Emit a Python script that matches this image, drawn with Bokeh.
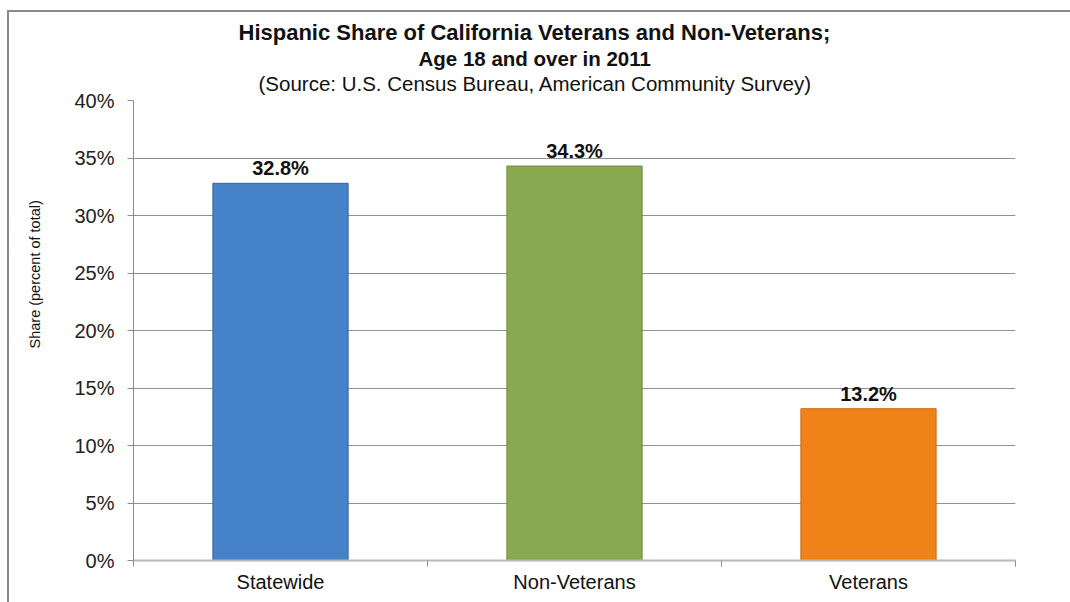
from bokeh.plotting import figure
from bokeh.models import (ColumnDataSource, Range1d, FixedTicker, Label, LabelSet,
                          PrintfTickFormatter, Title)
from bokeh.core.properties import value
from bokeh.embed import file_html
from bokeh.resources import INLINE

# ---- data ----
categories = ["Statewide", "Non-Veterans", "Veterans"]
shares = [32.8, 34.3, 13.2]
bar_colors = ["#4682C8", "#8AA84F", "#F0821A"]
edge_colors = ["#3566A0", "#6F8A3C", "#C96A10"]
y_ticks = [0, 5, 10, 15, 20, 25, 30, 35, 40]

title_line1 = "Hispanic Share of California Veterans and Non-Veterans;"
title_line2 = "Age 18 and over in 2011"
title_line3 = "(Source: U.S. Census Bureau, American Community Survey)"
y_label = "Share (percent of total)"
cut_heading = "g"

FONT = "Liberation Sans"
W, H = 1070, 602
FL, FR, FT, FB = 133, 1015, 100, 560   # frame edges on the page

xpos = [i + 0.5 for i in range(len(categories))]
src = ColumnDataSource(dict(
    x=xpos, top=shares, color=bar_colors, edge=edge_colors,
    label=[f"{v:.1f}%" for v in shares],
))

p = figure(width=W, height=H, output_backend="svg", toolbar_location=None,
           x_range=Range1d(0, len(categories)), y_range=Range1d(0, 40),
           min_border_left=FL, min_border_right=W - FR, min_border_top=FT,
           min_border_bottom=H - FB)
p.outline_line_color = None
p.background_fill_color = "white"
p.border_fill_color = None
# slide frame (grey top and left rules) drawn behind the transparent canvas
p.styles = {
    "background": ("linear-gradient(#8a8a8a,#8a8a8a) 7px 10px / 1063px 2px no-repeat, "
                   "linear-gradient(#8a8a8a,#8a8a8a) 7px 10px / 2px 592px no-repeat, white"),
}

p.vbar(x="x", top="top", width=0.46, bottom=0, source=src,
       fill_color="color", line_color="edge", line_width=1)

labels = LabelSet(x="x", y="top", text="label", source=src, text_align="center",
                  text_baseline="bottom", y_offset=4, text_font=value(FONT),
                  text_font_style="bold", text_font_size="20px", text_color="#111111")
p.add_layout(labels)

# y axis
p.yaxis.ticker = FixedTicker(ticks=y_ticks)
p.yaxis.formatter = PrintfTickFormatter(format="%d%%")
p.yaxis.major_label_text_font = FONT
p.yaxis.major_label_text_font_size = "20px"
p.yaxis.major_label_text_color = "#222222"
p.yaxis.major_tick_out = 6
p.yaxis.major_tick_in = 0
p.yaxis.minor_tick_line_color = None
p.yaxis.axis_line_color = "#8c8c8c"
p.yaxis.major_tick_line_color = "#8c8c8c"
p.yaxis.major_label_standoff = 13

# x axis: labels at centres, separator ticks at category boundaries
p.xaxis.ticker = FixedTicker(ticks=xpos, minor_ticks=list(range(len(categories) + 1)))
p.xaxis.major_label_overrides = {x: c for x, c in zip(xpos, categories)}
p.xaxis.major_tick_line_color = None
p.xaxis.major_tick_out = 0
p.xaxis.major_tick_in = 0
p.xaxis.minor_tick_out = 6
p.xaxis.minor_tick_in = 0
p.xaxis.minor_tick_line_color = "#8c8c8c"
p.xaxis.axis_line_color = "#b8b8b8"
p.xaxis.axis_line_width = 2
p.xaxis.major_label_text_font = FONT
p.xaxis.major_label_text_font_size = "20px"
p.xaxis.major_label_text_color = "#111111"
p.xaxis.major_label_standoff = 4

p.xgrid.grid_line_color = None
p.ygrid.grid_line_color = "#909090"
p.ygrid.grid_line_width = 1

# title block: stacked titles (added nearest-to-frame first),
# left-aligned with offsets so that each line is centred on the slide (x = 535)
p.title = None
p.add_layout(Title(text=" ", text_font_size="1px", standoff=3), "above")   # spacer
p.add_layout(Title(text=title_line3, align="left", offset=125, standoff=0,
                   text_font=FONT, text_font_size="20.5px", text_font_style="normal",
                   text_line_height=1.0, text_color="#111111"), "above")
p.add_layout(Title(text=title_line2, align="left", offset=285, standoff=0,
                   text_font=FONT, text_font_size="20.5px", text_font_style="bold",
                   text_line_height=1.0, text_color="#111111"), "above")
p.add_layout(Title(text=title_line1, align="left", offset=105, standoff=0,
                   text_font=FONT, text_font_size="22px", text_font_style="bold",
                   text_line_height=1.0, text_color="#111111"), "above")

# y-axis title, to the left of the tick labels
p.add_layout(Title(text=" ", text_font_size="1px", standoff=26), "left")   # spacer
p.add_layout(Title(text=y_label, align="left", offset=212, standoff=0,
                   text_font=FONT, text_font_size="14.5px", text_font_style="normal",
                   text_color="#111111"), "left")

# the slide heading above the frame, cut off at the page top
try:
    p.add_layout(Label(x=521, y=8, x_units="canvas", y_units="canvas", text=cut_heading,
                       text_font=FONT, text_font_size="24px", text_font_style="bold",
                       text_align="center", text_baseline="bottom", text_color="#111111"))
except Exception:
    pass

open("out.html", "w").write(file_html(p, INLINE))
